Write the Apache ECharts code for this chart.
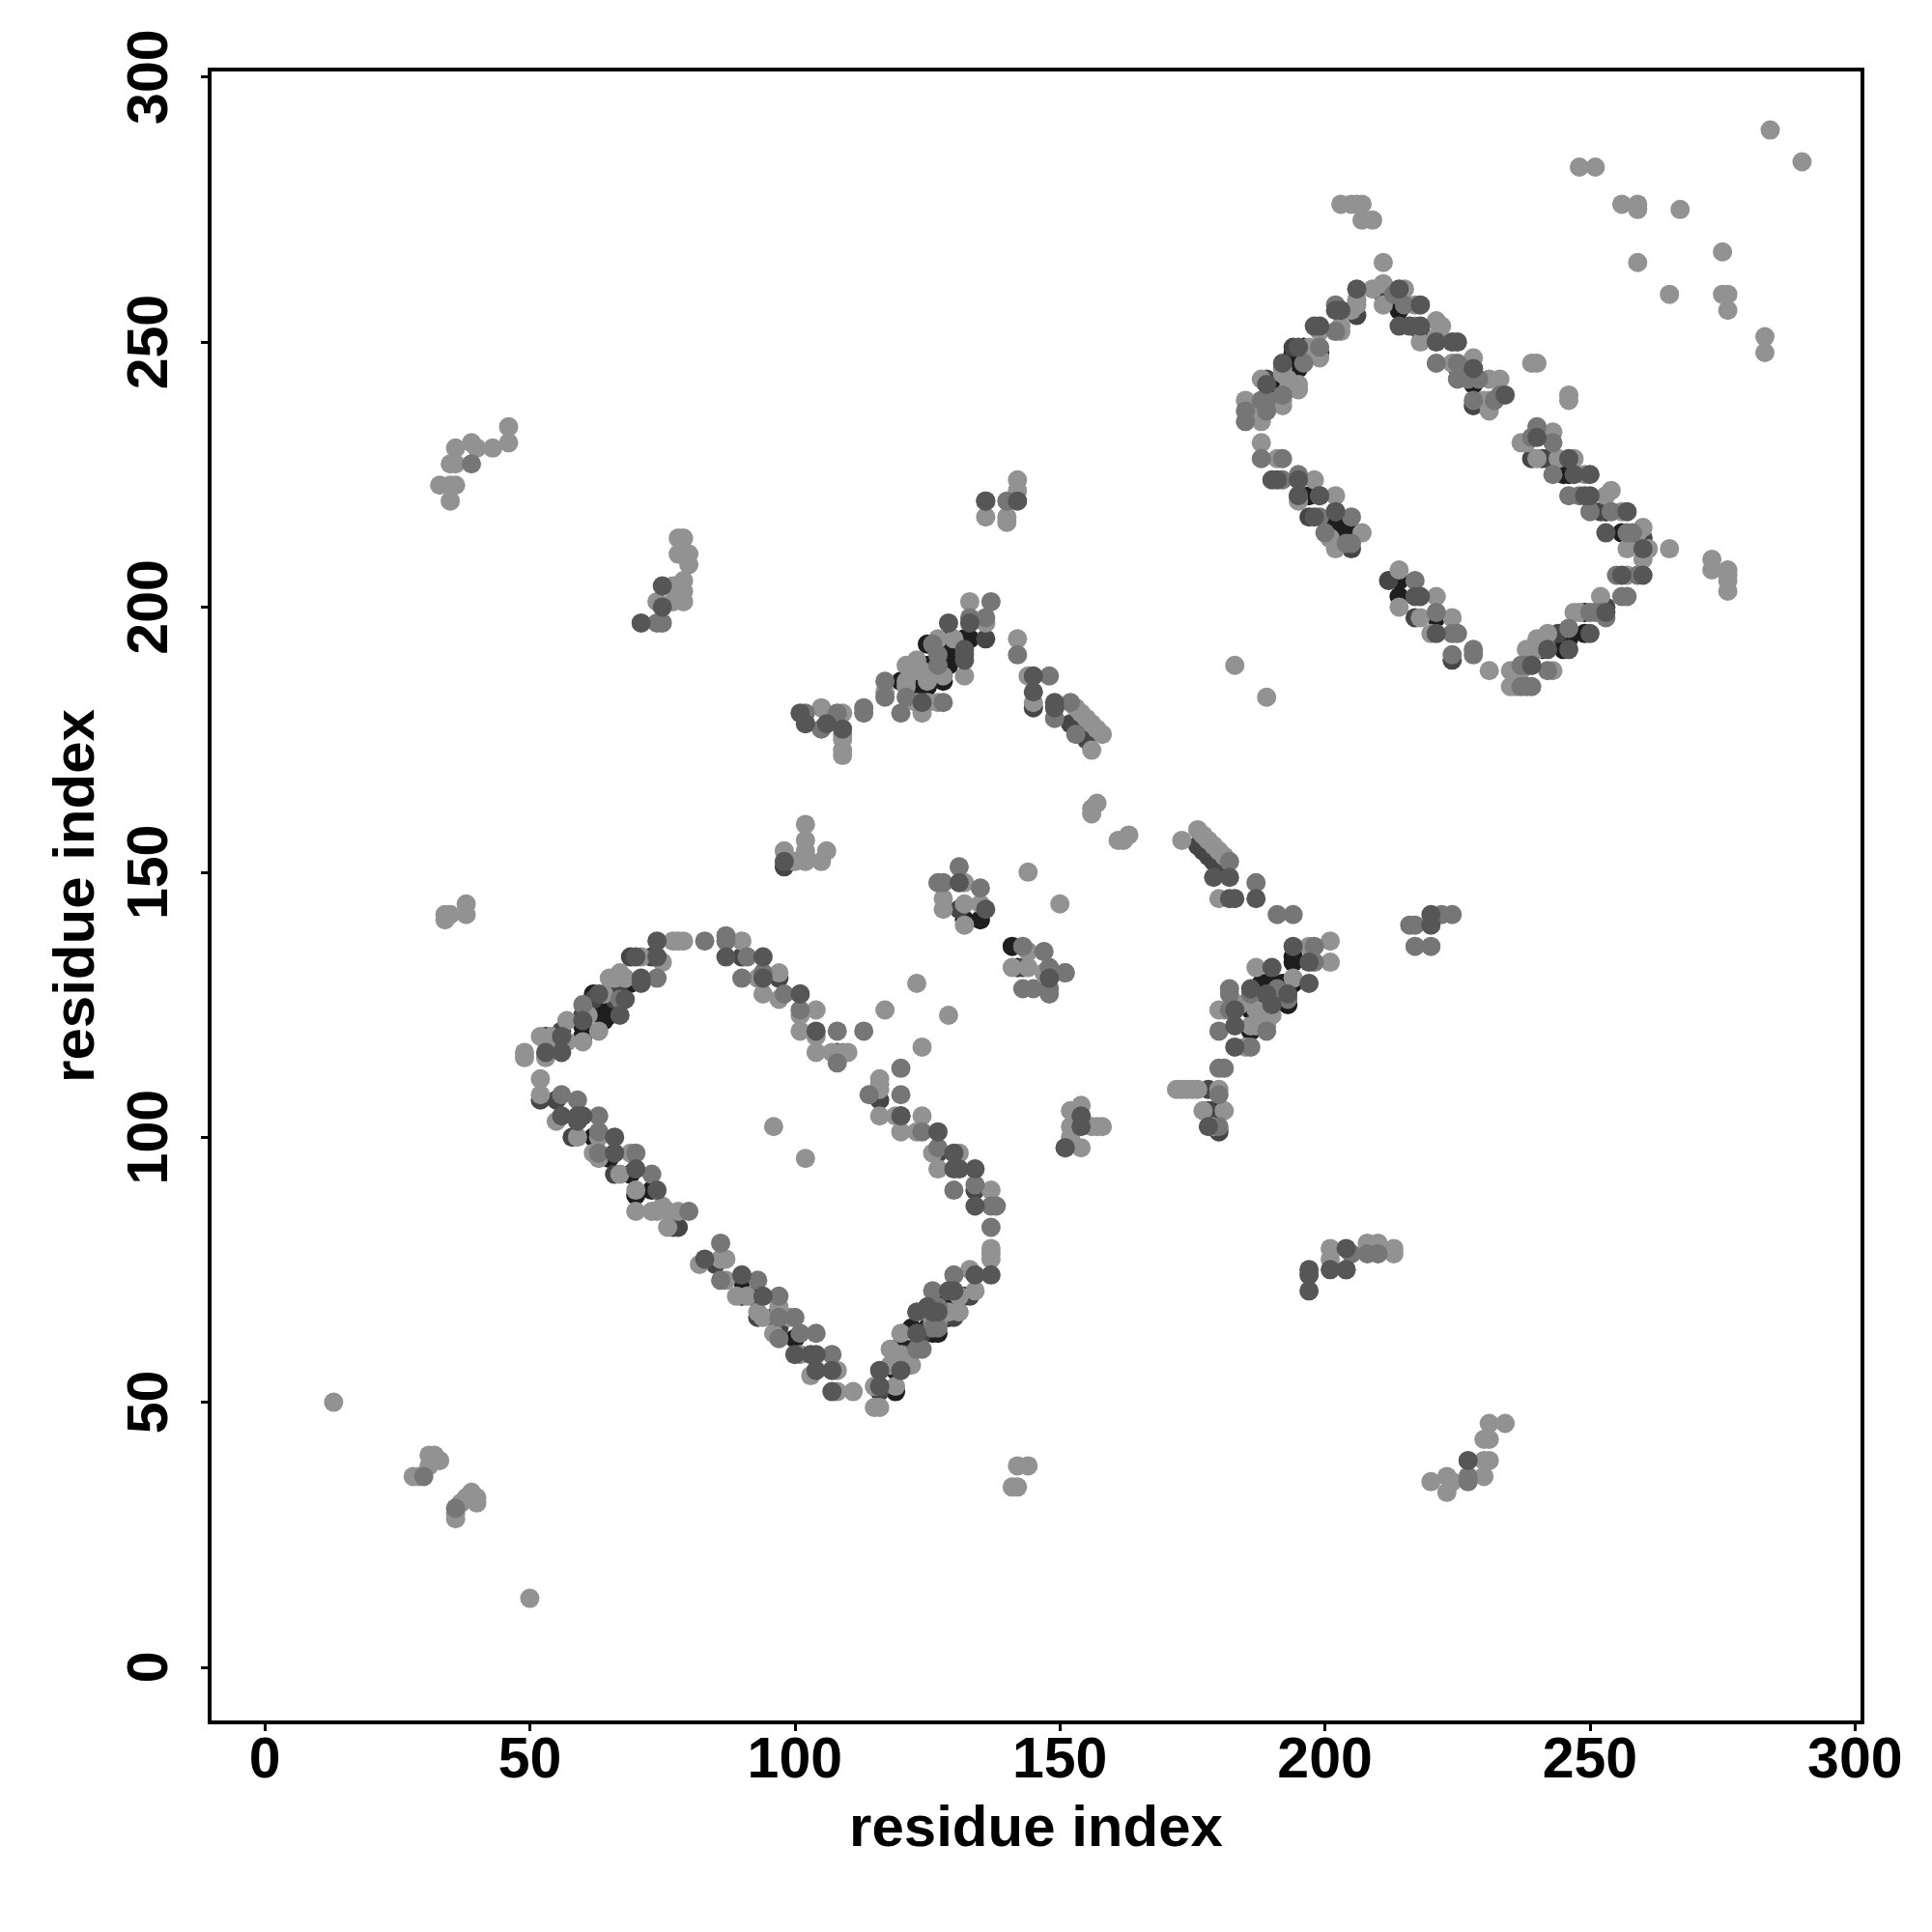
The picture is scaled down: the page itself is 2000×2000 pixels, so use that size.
<!DOCTYPE html>
<html><head><meta charset="utf-8">
<style>html,body{margin:0;background:#fff}#c{width:2000px;height:2000px}</style>
<script src="https://cdn.jsdelivr.net/npm/echarts@6/dist/echarts.min.js"></script>
</head><body><div id="c"></div>
<script>
const tickValues=[0,50,100,150,200,250,300];
const xTitle='residue index';
const yTitle='residue index';
const blackPoints=[[53,119],[60,119],[60,121],[64,122],[63,125],[65,123],[62,100],[65,96],[69,93],[70,89],[73,90],[90,73],[90,70],[92,70],[96,66],[100,62],[119,52],[119,56],[119,60],[120,60],[121,60],[122,64],[126,63],[127,63],[195,248],[196,249],[195,245],[199,248],[214,256],[218,252],[225,245],[228,242],[202,216],[202,212],[205,214],[243,228],[246,225],[253,218],[256,214],[221,198],[214,205],[214,202],[249,199],[249,195],[246,194],[245,192],[132,194],[133,194],[129,194],[129,190],[129,192],[125,193],[125,189],[125,185],[128,186],[120,186],[123,185],[154,176],[194,133],[194,134],[194,129],[193,125],[189,129],[190,129],[186,124],[189,125],[186,120],[179,105],[132,141],[135,141],[141,136],[142,132],[62,127],[64,123],[66,129],[69,129],[124,189],[129,189],[188,129],[192,129],[185,125],[125,64],[129,66],[129,70],[191,242],[194,245],[194,248],[197,221],[201,213],[204,214],[245,225],[245,194],[241,192]];
const darkUnder=[[52,107],[55,107],[66,93],[58,100],[97,64],[90,134],[108,116],[127,97],[134,90],[116,107],[78,83],[93,66],[148,130],[131,143],[178,105],[180,101],[205,211],[206,255],[228,238],[260,213],[228,245],[211,259],[97,130],[224,190],[67,129],[85,76],[116,52],[133,70],[130,66],[178,109],[120,104],[217,198],[242,228],[239,228],[143,132],[202,218],[154,104],[102,153],[145,181],[98,151],[195,221],[212,205],[136,194],[153,177],[152,178],[155,175],[176,155],[177,154],[178,153],[179,152],[180,151],[55,119],[56,120],[60,123],[62,126],[66,126],[69,134],[73,134],[124,181],[77,83],[124,63],[128,66],[132,70],[121,59],[189,243],[194,249],[197,217],[241,228],[252,218],[253,200],[244,195]];
const lightPoints=[[13,50],[50,13],[49,115],[49,116],[53,115],[52,119],[54,119],[57,122],[57,118],[60,118],[63,120],[64,127],[66,130],[67,131],[68,130],[71,134],[75,133],[77,137],[78,137],[79,137],[52,111],[52,108],[55,103],[59,100],[63,100],[62,97],[63,96],[69,97],[67,93],[70,90],[90,137],[93,130],[97,131],[94,127],[97,126],[101,120],[101,123],[104,124],[104,119],[104,116],[107,116],[109,116],[110,116],[117,124],[123,129],[129,123],[124,117],[116,111],[116,110],[116,109],[116,104],[119,104],[124,104],[120,101],[123,101],[126,97],[131,97],[127,94],[137,90],[96,102],[102,96],[78,86],[82,76],[87,77],[86,77],[87,73],[89,70],[91,70],[93,67],[94,66],[97,68],[99,66],[96,63],[101,59],[103,55],[108,56],[108,52],[111,52],[115,49],[116,49],[115,53],[119,53],[118,57],[119,57],[118,60],[122,57],[120,63],[125,67],[127,65],[129,67],[131,67],[131,70],[133,75],[134,71],[137,77],[137,79],[137,78],[185,239],[188,243],[188,236],[188,235],[192,239],[192,238],[193,243],[193,241],[195,242],[195,241],[199,247],[203,252],[203,253],[205,256],[206,257],[209,260],[211,261],[211,257],[215,260],[217,253],[218,250],[221,254],[222,253],[228,247],[231,243],[233,243],[231,239],[231,237],[188,231],[191,228],[198,224],[195,220],[202,221],[201,213],[202,211],[207,214],[237,231],[243,233],[240,228],[244,228],[247,228],[249,225],[253,221],[254,222],[256,218],[259,214],[260,215],[257,211],[261,211],[260,209],[265,211],[257,206],[252,202],[248,199],[242,195],[240,192],[239,192],[238,192],[243,188],[237,188],[235,188],[236,185],[235,185],[231,188],[224,198],[221,202],[220,195],[218,198],[214,207],[214,200],[284,290],[290,284],[248,283],[251,283],[256,276],[259,276],[259,275],[267,275],[275,267],[259,265],[265,259],[275,259],[276,259],[276,256],[283,251],[283,248],[203,276],[205,276],[206,276],[207,276],[207,273],[209,273],[273,209],[273,207],[276,207],[276,206],[276,205],[276,203],[211,265],[239,246],[240,246],[246,240],[246,239],[183,189],[189,183],[142,224],[142,222],[136,217],[140,217],[140,216],[142,194],[156,162],[157,163],[156,161],[162,156],[163,157],[161,156],[173,156],[176,158],[177,157],[178,156],[179,155],[180,154],[181,153],[180,145],[144,150],[150,144],[133,201],[132,187],[136,197],[128,187],[125,186],[125,182],[127,182],[124,180],[121,186],[121,189],[122,189],[117,184],[144,187],[145,182],[153,181],[154,180],[155,179],[156,178],[157,177],[158,176],[156,173],[201,137],[201,133],[197,136],[194,130],[187,132],[187,124],[189,121],[186,121],[185,117],[180,124],[181,124],[172,109],[173,109],[174,109],[175,109],[176,109],[180,109],[177,105],[181,105],[179,102],[132,148],[128,145],[128,143],[132,144],[135,144],[132,140],[144,135],[141,132],[144,132],[147,131],[46,234],[46,231],[43,230],[40,230],[39,231],[36,230],[35,227],[36,227],[36,223],[33,223],[35,223],[35,220],[78,213],[79,213],[80,210],[78,210],[80,208],[79,205],[79,203],[77,204],[79,201],[77,201],[74,201],[105,181],[109,180],[109,176],[109,175],[109,173],[109,172],[102,159],[102,156],[102,154],[100,152],[102,152],[105,152],[98,154],[106,154],[34,142],[34,141],[38,144],[38,142],[35,142],[28,36],[29,36],[31,40],[32,40],[33,39],[31,38],[36,28],[36,29],[37,31],[39,33],[40,32],[40,31],[38,32],[142,38],[144,38],[141,34],[142,34],[220,35],[223,36],[223,33],[224,35],[230,36],[230,39],[231,39],[230,43],[231,43],[231,46],[234,46],[201,79],[201,77],[208,80],[210,80],[213,79],[213,78],[152,105],[154,106],[152,102],[156,102],[157,102],[158,102],[154,98],[152,100],[76,83],[73,86],[74,86],[76,86],[75,87],[70,86],[61,123],[65,130],[123,190],[124,188],[125,187],[127,194],[130,194],[123,182],[121,185],[123,188],[187,121],[188,123],[190,123],[184,125],[119,59],[120,59],[126,65],[192,244],[192,245],[197,249],[187,238],[187,236],[199,252],[206,258],[217,257],[221,251],[224,246],[230,239],[238,231],[247,199],[240,194],[236,188]];
const midPoints=[[56,108],[59,107],[63,104],[63,101],[70,97],[73,93],[63,97],[74,130],[83,137],[87,138],[87,137],[91,134],[90,130],[94,131],[98,127],[101,127],[101,124],[108,120],[113,120],[108,114],[120,113],[120,108],[114,108],[124,101],[127,98],[130,90],[134,91],[137,87],[138,87],[80,86],[86,80],[86,73],[93,73],[97,70],[97,66],[100,66],[97,62],[101,63],[104,63],[107,59],[116,53],[124,60],[123,60],[127,64],[126,71],[130,74],[137,83],[185,237],[185,235],[188,239],[189,239],[196,246],[199,249],[202,257],[202,252],[215,257],[221,246],[225,246],[225,243],[229,243],[228,239],[232,239],[233,240],[188,228],[192,228],[192,224],[195,225],[199,221],[199,217],[205,217],[205,212],[240,234],[243,231],[243,225],[246,221],[250,218],[254,218],[257,214],[256,202],[257,202],[259,206],[253,198],[252,199],[250,199],[246,196],[242,188],[239,189],[238,189],[239,185],[238,185],[237,185],[228,192],[228,191],[224,195],[225,195],[224,191],[221,199],[217,205],[142,191],[140,220],[137,201],[133,198],[136,198],[128,182],[117,186],[117,183],[121,183],[120,180],[126,193],[127,189],[148,187],[149,179],[152,182],[153,176],[182,152],[187,148],[191,142],[194,142],[198,136],[198,133],[182,128],[182,127],[186,117],[180,120],[180,113],[181,113],[193,126],[191,128],[189,120],[180,108],[180,102],[131,151],[127,148],[128,148],[135,147],[147,135],[148,132],[151,131],[143,136],[143,128],[145,128],[148,128],[148,127],[102,178],[108,180],[113,181],[113,180],[105,177],[74,197],[75,197],[102,180],[39,227],[30,36],[36,30],[227,36],[227,35],[204,75],[205,78],[208,78],[210,78],[217,136],[220,136],[216,140],[217,140],[222,142],[224,142],[136,220],[151,98],[151,131],[60,125],[67,126],[127,191],[186,127],[191,127],[182,124],[127,68],[126,64],[189,237],[192,240],[213,259],[226,245],[227,243],[232,239],[204,212],[200,214],[251,199],[255,206],[237,189],[248,221],[258,214],[239,232]];
const darkOver=[[53,116],[56,116],[59,104],[60,104],[59,103],[56,104],[63,127],[66,100],[66,97],[70,94],[74,90],[56,119],[60,122],[67,123],[68,126],[71,129],[71,130],[70,134],[74,134],[74,137],[87,134],[94,134],[94,130],[101,127],[104,120],[120,104],[127,101],[130,97],[130,94],[131,94],[134,94],[134,87],[83,77],[90,74],[94,70],[100,59],[103,59],[104,59],[104,56],[107,56],[107,52],[116,56],[116,53],[120,56],[123,63],[123,67],[126,67],[127,67],[129,71],[130,71],[134,74],[137,74],[189,242],[192,246],[195,249],[198,253],[199,253],[203,256],[206,260],[214,260],[214,253],[218,257],[218,253],[221,250],[225,250],[228,245],[234,240],[191,224],[195,224],[195,221],[199,221],[198,217],[202,218],[240,232],[246,228],[247,225],[250,225],[249,221],[250,221],[253,214],[257,218],[260,211],[260,206],[256,206],[253,199],[250,195],[246,192],[242,192],[239,189],[221,195],[217,202],[218,202],[142,220],[136,220],[129,197],[132,190],[124,182],[145,187],[145,184],[149,182],[149,181],[179,149],[182,149],[182,145],[183,145],[187,145],[220,142],[220,140],[194,136],[197,133],[197,129],[190,132],[186,128],[190,125],[183,117],[183,124],[183,121],[178,102],[136,143],[131,148],[148,130],[101,180],[102,178],[106,178],[109,177],[98,152],[75,204],[75,200],[71,197],[197,75],[197,74],[197,71],[201,75],[204,79],[204,75],[227,39],[151,98],[154,102],[154,104],[132,191],[132,192],[133,197],[189,127],[193,127],[125,68],[202,256],[216,253],[224,250],[190,224]];
const chart=echarts.init(document.getElementById('c'),null,{renderer:'canvas'});
const fontFam='"Liberation Sans",Arial,sans-serif';
const axisCommon={type:'value',min:-10.4,max:301.4,nameLocation:'middle',
  nameTextStyle:{fontFamily:fontFam,fontWeight:'bold',fontSize:60,color:'#000'},
  splitLine:{show:false},axisLine:{show:false,onZero:false},
  axisTick:{show:true,length:9,lineStyle:{color:'#000',width:3},customValues:tickValues},
};
const mk=(data,color)=>({type:'scatter',data,symbol:'circle',symbolSize:20,itemStyle:{color,opacity:1},animation:false,silent:true,large:false});
chart.setOption({
  animation:false,
  grid:{left:217,right:72,top:72,bottom:217,show:true,borderColor:'#000',borderWidth:4,backgroundColor:'#fff',containLabel:false},
  xAxis:Object.assign({},axisCommon,{name:xTitle,nameGap:81,
    axisLabel:{fontFamily:fontFam,fontWeight:'bold',fontSize:59,color:'#000',margin:11,customValues:tickValues}}),
  yAxis:Object.assign({},axisCommon,{name:yTitle,nameGap:107,
    axisLabel:{fontFamily:fontFam,fontWeight:'bold',fontSize:59,color:'#000',margin:31,rotate:90,customValues:tickValues}}),
  series:[mk(blackPoints,'#1e1e1e'),mk(darkUnder,'#464646'),mk(lightPoints,'#929292'),mk(midPoints,'#767676'),mk(darkOver,'#565656')]
});
</script></body></html>
